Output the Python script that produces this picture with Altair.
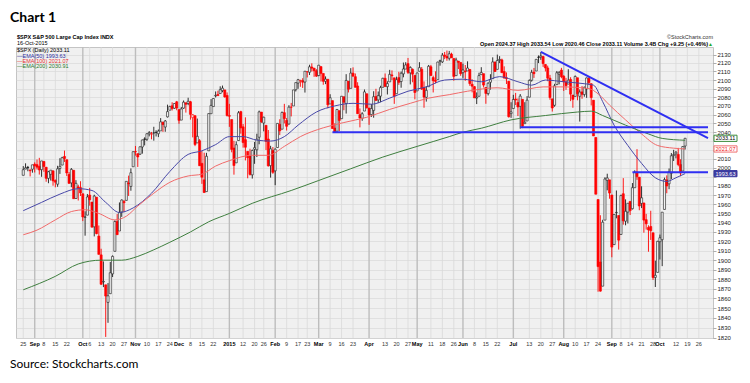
import altair as alt
import pandas as pd

# ---------------- S&P 500 daily candles, 25-Aug-2014 .. 16-Oct-2015 ----------------
opens = [
1991.74,1998.59,2000.54,1997.42,1998.45,
2004.07,2003.57,2001.67,1998.00,2007.17,2000.73,1988.41,1992.85,1996.74,1986.04,1981.93,1999.30,2003.07,2012.74,2009.08,1992.78,1983.34,1997.32,1966.22,1978.96,1978.21,
1971.44,1945.83,1948.12,1970.01,1962.36,1935.55,1967.68,1925.63,1905.65,1877.11,1874.18,1855.95,1864.91,1885.62,1909.38,1941.29,1931.02,1951.59,1962.97,1964.14,1983.29,1979.49,2001.20,
2018.21,2015.81,2015.29,2023.33,2032.36,2032.01,2038.20,2037.75,2039.21,2039.74,2038.29,2041.48,2051.16,2045.87,2057.46,2065.07,2070.15,2067.36,2074.78,
2065.78,2053.77,2067.45,2073.64,2072.78,2074.84,2056.55,2058.86,2027.92,2030.36,2005.03,1986.71,1973.77,2018.98,2061.04,2069.28,2081.48,2083.25,2084.30,2087.63,2088.49,2082.11,
2058.90,2054.44,2022.15,2005.55,2030.61,2063.45,2046.13,2031.58,2018.40,2013.75,1992.25,2020.76,2020.19,2034.30,2062.98,2050.42,2047.86,2032.34,2002.45,2019.35,
1996.67,2022.71,2048.86,2043.45,2062.28,2053.47,2049.38,2068.55,2069.98,2088.78,2096.47,2099.16,2099.25,2097.65,2109.83,2109.10,2115.30,2113.91,2110.88,
2105.23,2115.76,2107.72,2098.54,2100.91,2072.25,2076.14,2044.69,2041.10,2064.56,2055.35,2080.59,2072.84,2098.69,2090.32,2107.99,2103.94,2093.10,2059.94,2055.78,2064.11,2084.05,
2067.63,2060.03,2064.87,2080.79,2076.94,2081.29,2091.51,2102.03,2092.28,2097.82,2105.96,2102.58,2084.11,2102.82,2098.27,2107.21,2112.80,2119.29,2108.35,2112.49,2105.52,
2087.38,2110.23,2112.63,2091.26,2079.96,2092.13,2115.56,2102.87,2099.62,2100.43,2122.07,2121.30,2129.45,2127.79,2125.55,2130.36,2125.34,2105.13,2122.27,2120.66,
2108.64,2110.41,2110.64,2112.35,2095.09,2092.34,2079.07,2081.12,2106.24,2107.43,2091.34,2084.26,2097.40,2101.58,2121.06,2112.50,2123.16,2123.65,2109.96,2102.62,2098.63,2061.19,
2067.00,2078.03,2073.95,2069.52,2077.66,2049.73,2052.74,2080.03,2099.72,2109.21,2110.55,2126.80,2126.85,2127.55,2118.21,2114.16,2102.24,2078.19,2070.75,2094.70,2106.78,2111.60,
2104.49,2097.68,2095.27,2100.75,2082.61,2080.98,2102.66,2081.10,2086.19,2083.15,2089.70,2101.99,2095.69,2076.61,2034.08,1965.15,1898.08,1872.75,1942.77,1986.06,1986.73,
1970.09,1916.52,1950.79,1947.76,1927.30,1971.45,1941.59,1951.45,1963.06,1955.10,1978.02,1995.33,1989.66,1960.84,1961.39,1943.24,1934.81,1935.93,1929.18,1881.90,1887.14,
1919.65,1921.77,1954.33,1986.63,1982.34,1994.01,2013.73,2015.65,2015.00,2003.66,1996.47,2024.37]
highs = [
2001.95,2005.04,2002.14,1998.55,2003.38,
2006.12,2009.28,2011.17,2007.71,2007.17,2001.01,1996.66,1997.65,1996.74,1987.18,2002.28,2010.74,2012.34,2019.26,2009.08,1995.41,1999.79,1997.32,1986.37,1981.28,1985.17,
1971.44,1952.32,1971.19,1977.84,1962.36,1970.36,1967.68,1936.98,1912.09,1898.71,1874.18,1876.01,1898.16,1905.03,1942.45,1949.31,1961.95,1965.27,1964.64,1985.05,1991.40,1999.40,2018.19,
2024.46,2015.98,2023.77,2031.61,2034.26,2038.70,2041.28,2040.33,2046.18,2042.22,2043.07,2056.08,2052.14,2053.84,2071.46,2070.17,2074.21,2073.29,2075.76,
2065.78,2068.77,2076.28,2073.64,2079.47,2075.78,2060.60,2058.86,2055.53,2032.25,2018.69,2016.89,2016.75,2061.23,2077.85,2078.76,2086.73,2087.56,2092.70,2093.55,2088.49,2085.58,
2072.36,2054.44,2030.25,2029.61,2064.08,2064.43,2049.30,2056.93,2018.40,2021.35,2020.46,2028.94,2038.29,2064.62,2062.98,2057.62,2047.86,2042.49,2024.64,2023.32,
2021.66,2050.30,2054.74,2063.55,2072.40,2056.16,2070.86,2073.48,2088.53,2097.03,2101.30,2100.23,2102.13,2110.61,2110.05,2117.94,2119.59,2113.91,2112.74,
2117.52,2115.76,2107.72,2104.25,2100.91,2083.49,2076.14,2050.08,2066.41,2064.56,2081.41,2080.59,2106.85,2098.69,2113.92,2114.86,2107.63,2097.43,2067.15,2062.83,2088.97,2084.05,
2067.63,2072.17,2086.99,2089.81,2086.69,2093.31,2102.61,2107.65,2098.62,2111.91,2111.30,2102.58,2103.94,2109.64,2109.98,2120.49,2120.92,2125.92,2116.04,2113.65,2105.52,
2108.41,2120.95,2115.24,2098.42,2092.90,2117.66,2117.69,2105.06,2110.19,2121.45,2123.89,2131.78,2133.02,2134.72,2134.28,2132.15,2125.34,2126.22,2122.27,2120.66,
2119.15,2117.59,2121.92,2112.89,2100.99,2093.01,2085.62,2108.50,2115.02,2107.43,2091.34,2097.40,2106.79,2126.65,2121.64,2129.87,2128.03,2125.10,2116.04,2108.92,2098.63,2074.28,
2082.78,2085.06,2078.61,2083.74,2077.66,2074.28,2081.31,2100.67,2111.98,2114.14,2124.42,2128.91,2132.82,2128.49,2118.51,2116.87,2106.01,2078.19,2095.60,2110.60,2110.48,2114.24,
2105.70,2102.51,2112.66,2103.32,2082.61,2105.35,2102.66,2089.06,2092.93,2092.45,2102.87,2103.47,2096.17,2076.61,2034.08,1965.15,1948.04,1943.09,1989.60,1993.48,1986.73,
1970.09,1948.91,1975.01,1947.76,1970.42,1988.63,1965.29,1961.05,1963.06,1983.19,1997.26,2020.86,1989.66,1979.64,1961.39,1949.52,1937.17,1952.89,1929.18,1899.48,1920.53,
1927.21,1951.36,1989.17,1991.62,1999.31,2016.50,2020.13,2018.66,2022.34,2009.56,2024.15,2033.54]
lows = [
1991.74,1998.59,1996.20,1990.52,1994.65,
1994.85,1998.14,1992.54,1990.10,1995.60,1984.61,1982.99,1985.93,1980.26,1978.48,1979.06,1993.29,2003.07,2006.59,1991.01,1982.77,1978.63,1965.99,1966.22,1964.04,1968.96,
1941.72,1926.03,1948.12,1958.43,1935.10,1925.25,1927.56,1906.05,1874.14,1871.79,1820.66,1835.02,1864.91,1882.30,1909.38,1926.83,1931.02,1946.27,1951.37,1964.14,1969.04,1974.75,2001.20,
2013.68,2001.01,2014.42,2015.86,2025.07,2030.17,2035.28,2031.95,2030.44,2035.20,2034.46,2041.48,2040.37,2040.49,2056.75,2065.07,2064.75,2066.62,2065.06,
2049.57,2053.77,2066.65,2062.34,2070.81,2054.27,2034.17,2024.26,2027.92,2002.33,1982.26,1972.56,1973.77,2018.98,2061.03,2069.28,2079.77,2081.86,2084.30,2085.75,2079.53,2057.94,
2046.04,2017.34,1992.44,2005.55,2030.61,2038.33,2022.58,2008.25,1988.44,1991.47,1988.12,2004.49,2012.04,2026.38,2050.54,2040.97,2019.91,2001.49,1989.18,1993.38,
1980.90,2022.71,2036.72,2043.45,2049.97,2041.88,2048.62,2057.99,2069.98,2086.70,2089.80,2092.15,2090.79,2085.44,2103.00,2105.87,2109.89,2103.76,2103.75,
2104.50,2098.26,2094.49,2095.22,2067.27,2072.21,2044.16,2039.69,2041.10,2041.17,2055.35,2065.08,2061.23,2085.56,2090.32,2104.42,2091.50,2061.05,2045.50,2052.96,2064.11,2067.04,
2048.38,2057.32,2056.52,2076.10,2073.30,2074.29,2091.51,2092.33,2083.24,2097.82,2100.02,2072.37,2084.11,2094.38,2091.05,2103.19,2112.80,2107.04,2094.89,2097.41,2077.59,
2087.38,2110.23,2088.46,2067.93,2074.99,2092.13,2104.58,2085.57,2096.04,2100.43,2116.81,2120.01,2124.50,2122.59,2122.95,2126.06,2099.18,2105.13,2112.86,2104.89,
2102.54,2099.14,2110.64,2093.23,2085.67,2079.11,2072.14,2081.12,2106.24,2091.33,2072.49,2082.10,2088.86,2101.58,2109.45,2112.50,2119.89,2108.58,2101.78,2095.38,2056.64,2056.32,
2067.00,2071.02,2058.40,2044.02,2044.66,2049.73,2052.74,2080.03,2098.18,2102.49,2110.55,2119.88,2123.66,2115.40,2110.00,2098.63,2077.09,2063.52,2069.09,2094.08,2094.97,2102.07,
2087.31,2088.60,2095.27,2075.53,2067.91,2080.98,2076.49,2052.09,2078.26,2080.61,2079.30,2094.14,2070.53,2035.73,1970.89,1867.01,1867.08,1872.75,1942.77,1975.19,1965.98,
1903.07,1916.52,1944.72,1911.21,1927.30,1937.88,1937.19,1939.19,1948.27,1954.30,1977.93,1986.73,1953.45,1955.80,1929.22,1932.57,1908.92,1921.50,1879.21,1871.91,1887.14,
1900.70,1893.70,1954.33,1971.99,1976.44,1987.53,2007.61,2010.55,2001.78,1990.73,1996.47,2020.46]
closes = [
1997.92,2000.02,2000.12,1996.74,2003.37,
2002.28,2000.72,1997.65,2007.71,2001.54,1988.44,1995.69,1997.45,1985.54,1984.13,1998.98,2001.57,2011.36,2010.40,1994.29,1982.77,1998.30,1965.99,1982.85,1977.80,1972.29,
1946.16,1946.17,1967.90,1964.82,1935.10,1968.89,1928.21,1906.13,1874.74,1877.70,1862.49,1862.76,1886.76,1904.01,1941.28,1927.11,1950.82,1964.58,1961.63,1985.05,1982.30,1994.65,2018.05,
2017.81,2012.10,2023.57,2031.21,2031.92,2038.26,2039.68,2038.25,2039.33,2039.82,2041.32,2051.80,2048.72,2052.75,2063.50,2069.41,2067.03,2072.83,2067.56,
2053.44,2066.55,2074.33,2071.92,2075.37,2060.31,2059.82,2026.14,2035.33,2002.33,1989.63,1972.74,2012.89,2061.23,2070.65,2078.54,2082.17,2081.88,2088.77,2090.57,2080.35,2058.90,
2058.20,2020.58,2002.61,2025.90,2062.14,2044.81,2028.26,2023.03,2011.27,1992.67,2019.42,2022.55,2032.12,2063.15,2051.82,2057.09,2029.55,2002.16,2021.25,1994.99,
2020.85,2050.03,2041.51,2062.52,2055.47,2046.74,2068.59,2068.53,2088.48,2096.99,2100.34,2099.68,2097.45,2110.30,2109.66,2115.48,2113.86,2110.74,2104.50,
2117.39,2107.78,2098.53,2101.04,2071.26,2079.43,2044.16,2040.24,2065.95,2053.40,2081.19,2074.28,2099.50,2089.27,2108.10,2104.42,2091.50,2061.05,2056.15,2061.02,2086.24,2067.89,
2059.69,2066.96,2080.62,2076.33,2081.90,2091.18,2102.06,2092.43,2095.84,2106.63,2104.99,2081.18,2100.40,2097.29,2107.96,2112.93,2117.69,2108.92,2114.76,2106.85,2085.51,
2108.29,2114.49,2089.46,2080.15,2088.00,2116.10,2105.33,2099.12,2098.48,2121.10,2122.73,2129.20,2127.83,2125.85,2130.82,2126.06,2104.20,2123.48,2120.79,2107.39,
2111.73,2109.60,2114.07,2095.84,2092.83,2079.28,2080.15,2105.20,2108.86,2094.11,2084.43,2096.29,2100.44,2121.24,2109.99,2122.85,2124.20,2108.58,2102.31,2101.49,2057.64,2063.11,
2077.42,2076.78,2068.76,2081.34,2046.68,2051.31,2076.62,2099.60,2108.95,2107.40,2124.29,2126.64,2128.28,2119.21,2114.15,2102.15,2079.65,2067.64,2093.25,2108.57,2108.63,2103.84,
2098.04,2093.32,2099.84,2083.56,2077.57,2104.18,2084.07,2086.05,2083.39,2091.54,2102.44,2096.92,2079.61,2035.73,1970.89,1893.21,1867.61,1940.51,1987.66,1988.87,1972.18,
1913.85,1948.86,1951.13,1921.22,1969.41,1942.04,1952.29,1961.05,1953.03,1978.09,1995.31,1990.20,1958.03,1966.97,1942.74,1938.76,1932.24,1931.34,1881.77,1884.09,1920.03,
1923.82,1951.36,1987.05,1979.92,1995.83,2013.43,2014.89,2017.46,2003.69,1994.24,2023.86,2033.11]
prev_close0 = 1988.40   # close of the session before the first candle

# ---------------- moving-average overlays ----------------
ema50_idx = [0,8,16,24,30,36,42,48,56,64,72,78,84,90,96,102,108,114,120,128,136,144,152,160,168,176,184,192,200,208,216,222,228,236,244,249,253,258,264,270,276,281,285,289]
ema50_val = [1953,1962,1971,1977,1975,1962,1951,1956,1972,1996,2015,2019,2026,2035,2035,2031,2030,2035,2048,2063,2070,2073,2072,2079,2087,2092,2100,2101,2098,2104,2098,2094,2100,2098,2096,2094,2075,2048,2025,2005,1989,1985,1989,1993.6]
ema100_idx = [0,6,14,21,27,33,40,45,50,57,64,72,78,84,90,100,107,114,121,131,140,150,160,169,177,186,194,207,216,227,236,247,251,256,263,270,277,284,289]
ema100_val = [1927,1932,1943,1952,1954,1950,1943,1947,1958,1972,1984,1991,1993,2002,2008,2014,2014,2024,2035,2045,2051,2057,2066,2073,2079,2083,2087,2091,2088,2092,2092,2090,2084,2071,2054,2038,2025,2022,2021.1]
ema200_idx = [0,14,24,34,43,50,57,64,73,81,90,100,117,129,143,157,172,186,192,200,213,228,242,248,253,263,273,279,289]
ema200_val = [1869,1883,1896,1900,1900,1904,1911,1919,1930,1941,1950,1961,1975,1986,1999,2012,2024,2035,2040,2044.5,2054,2059,2063,2064,2059,2048,2038,2033,2030.9]

# ---------------- drawn trendlines (start/end session index, level) ----------------
trend_id = ["a", "a", "b", "b", "c", "c", "d", "d"]
trend_i = [135, 299, 217, 299, 226, 299, 266, 299]
trend_v = [2040, 2040, 2045.5, 2045.5, 2133, 2033.3, 1995, 1995]

# ---------------- date axis ----------------
tick_idx = [0,5,9,14,19,26,29,34,39,44,49,54,59,64,68,73,78,83,90,96,101,105,110,115,120,124,129,134,139,144,151,158,163,168,172,178,183,188,192,197,202,207,214,221,226,231,236,241,246,251,257,261,265,270,275,278,285,290,295]
tick_lab = ["25","Sep","8","15","22","Oct","6","13","20","27","Nov","10","17","24","Dec","8","15","22","2015","12","20","26","Feb","9","17","23","Mar","9","16","23","Apr","13","20","27","May","11","18","26","Jun","8","15","22","Jul","13","20","27","Aug","10","17","24","Sep","8","14","21","28","Oct","12","19","26"]
price_ticks = list(range(1820, 2140, 10))
hidden_price_labels = [2030, 2020, 1990]   # covered by the value boxes on the right edge

# ---------------- build tables ----------------
rows = []
for i in range(len(closes)):
    o, h, l, c = opens[i], highs[i], lows[i], closes[i]
    pc = closes[i - 1] if i > 0 else prev_close0
    col = "#ff0000" if c < pc else "#1a1a1a"
    fill = col if c < o else "#f2f2f2"
    rows.append({"i": i, "o": o, "h": h, "l": l, "c": c, "col": col, "fill": fill})
cdf = pd.DataFrame(rows)

ma_df = pd.concat([
    pd.DataFrame({"i": ema50_idx, "v": ema50_val, "s": "EMA50"}),
    pd.DataFrame({"i": ema100_idx, "v": ema100_val, "s": "EMA100"}),
    pd.DataFrame({"i": ema200_idx, "v": ema200_val, "s": "EMA200"}),
])
tr_df = pd.DataFrame({"id": trend_id, "i": trend_i, "v": trend_v})
is_month = [not t.isdigit() or t == "2015" for t in tick_lab]
tk_df = pd.DataFrame({"i": tick_idx, "t": tick_lab, "m": is_month})

W, H = 697, 291
xs = alt.Scale(domain=[-0.99, 299.0], nice=False, zero=False)
ys = alt.Scale(type="log", domain=[1819.6, 2138.9], nice=False, zero=False)
X = alt.X("i:Q", scale=xs, axis=None)

hide_expr = "indexof(" + str(hidden_price_labels) + ", datum.value) >= 0 ? '' : datum.label"
yaxis = alt.Axis(orient="right", values=price_ticks, format="d", title=None, labelExpr=hide_expr,
                 labelFontSize=6, labelColor="#222222", labelPadding=1, labelFlush=False,
                 labelOverlap=False, tickSize=3, tickColor="#777777", tickWidth=0.6, domain=False,
                 grid=True, gridColor="#d8d8d8", gridWidth=0.7)


def Y(field):
    return alt.Y(field, scale=ys, axis=yaxis)


vgrid_w = alt.Chart(tk_df).transform_filter("!datum.m").mark_rule(color="#d9d9d9", strokeWidth=0.8).encode(
    x=X, y=alt.value(0), y2=alt.value(H))
vgrid_m = alt.Chart(tk_df).transform_filter("datum.m").mark_rule(color="#bdbdbd", strokeWidth=1.4).encode(
    x=X, y=alt.value(0), y2=alt.value(H))

wick = alt.Chart(cdf).mark_rule(strokeWidth=0.9).encode(
    x=X, y=Y("l:Q"), y2="h:Q", color=alt.Color("col:N", scale=None))
body = alt.Chart(cdf).mark_bar(width=2.1, strokeWidth=0.6).encode(
    x=X, y=Y("o:Q"), y2="c:Q",
    fill=alt.Fill("fill:N", scale=None), stroke=alt.Stroke("col:N", scale=None))

ma = alt.Chart(ma_df).mark_line(interpolate="monotone", strokeWidth=1).encode(
    x=X, y=Y("v:Q"),
    color=alt.Color("s:N", scale=alt.Scale(domain=["EMA50", "EMA100", "EMA200"],
                                           range=["#4848a8", "#f06a6a", "#3f7f3f"]), legend=None),
    detail="s:N")

trend = alt.Chart(tr_df).mark_line(strokeWidth=2, color="#2f2ff2").encode(
    x=X, y=Y("v:Q"), detail="id:N")

xlab_d = alt.Chart(tk_df).transform_filter("!datum.m").mark_text(
    fontSize=5.5, color="#333333", baseline="middle", align="center").encode(
    x=X, y=alt.value(H + 6), text="t:N")
xlab_m = alt.Chart(tk_df).transform_filter("datum.m").mark_text(
    fontSize=5.5, fontWeight="bold", color="#000000", baseline="middle", align="center").encode(
    x=X, y=alt.value(H + 6), text="t:N")

one = alt.Data(values=[{}])


def txt(s, x, y, size, color="#000000", weight="normal", align="left", font="Liberation Sans"):
    return alt.Chart(one).mark_text(text=s, fontSize=size, color=color, fontWeight=weight,
                                    align=align, baseline="alphabetic", font=font).encode(
        x=alt.value(x), y=alt.value(y))


last_close = closes[-1]
box_shape = "M-1,-0.27L1,-0.27L1,0.27L-1,0.27Z"


def box(v, label, fill, stroke, tcolor):
    d = pd.DataFrame({"v": [v]})
    b = alt.Chart(d).mark_point(shape=box_shape, size=529, filled=True, fill=fill, stroke=stroke,
                                strokeWidth=1, opacity=1).encode(
        x=alt.value(709.5), y=Y("v:Q"))
    t = alt.Chart(d).mark_text(text=label, fontSize=5.5, color=tcolor, align="center",
                               baseline="middle").encode(
        x=alt.value(709.5), y=Y("v:Q"))
    return [b, t]


layers = [vgrid_w, vgrid_m, wick, body, ma, trend, xlab_d, xlab_m]
layers += box(last_close, "2033.11", "#ffffff", "#3b8b3b", "#000000")
layers += box(ema100_val[-1], "2021.07", "#ffffff", "#f07070", "#ee2222")
layers += box(ema50_val[-1], "1993.63", "#3a3aa0", "#3a3aa0", "#ffffff")
layers += [
    txt("Chart 1", -6, -25, 14, weight="bold", font="Lato"),
    txt("$SPX S&P 500 Large Cap Index INDX", 1, -8, 5.5, weight="bold"),
    txt("16-Oct-2015", 1, -2, 5.5),
    txt("$SPX (Daily) 2033.11", 1, 4.5, 5.5),
    txt("\u2014EMA(50) 1993.63", 1, 10.5, 5.5, color="#2e2ea0"),
    txt("\u2014EMA(100) 2021.07", 1, 15.5, 5.5, color="#e83030"),
    txt("\u2014EMA(200) 2030.91", 1, 20.5, 5.5, color="#2d7a2d"),
    txt("\u00a9StockCharts.com", 697, -8.5, 5.5, color="#333333", align="right"),
    txt("Open 2024.37  High 2033.54  Low 2020.46  Close 2033.11  Volume 3.4B  Chg +9.25 (+0.46%)", 692, -1, 5.5,
        weight="bold", align="right"),
    txt("\u25b2", 697, -1, 5, color="#22aa22", align="right"),
    txt("Source: Stockcharts.com", -6, 321, 12, font="Lato"),
]

chart = alt.layer(*layers).properties(
    width=W, height=H,
    padding={"left": 8, "top": 39, "right": 29, "bottom": 33},
    autosize=alt.AutoSizeParams(type="none"),
).configure(font="Liberation Sans").configure_view(fill="#f0f0f0", stroke="#c4c4c4", strokeWidth=1)

chart.save("out.html", embed_options={"renderer": "svg", "actions": False})
